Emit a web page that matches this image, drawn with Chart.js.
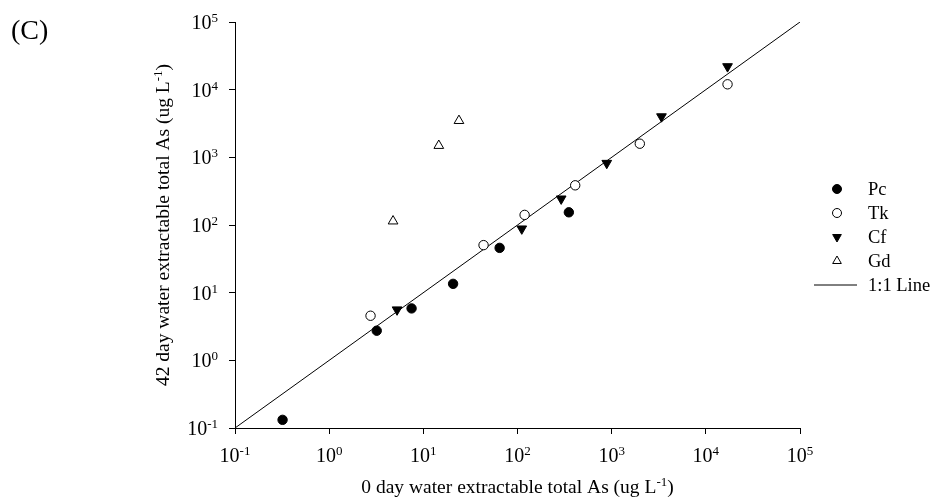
<!DOCTYPE html>
<html>
<head>
<meta charset="utf-8">
<script src="https://cdn.jsdelivr.net/npm/chart.js@4.4.0/dist/chart.umd.min.js"></script>
<style>
  html, body { margin: 0; padding: 0; background: #fff; }
  #wrap { width: 934px; height: 504px; }
</style>
</head>
<body>
<div id="wrap"><canvas id="chart" width="934" height="504"></canvas></div>
<script>
// decade exponents used for the tick labels on both axes
const decades = [-1, 0, 1, 2, 3, 4, 5];

// values (ug L-1): 0 day on x, 42 day on y
const pcX = [0.32, 3.2, 7.5, 20.7, 64.6, 351];
const pcY = [0.132, 2.74, 5.85, 13.5, 45.9, 154];
const tkX = [2.75, 43.6, 119, 410, 1990, 17000];
const tkY = [4.56, 50.4, 141, 386, 1590, 12000];
const cfX = [5.26, 111, 291, 887, 3380, 17000];
const cfY = [5.6, 88, 244, 820, 4000, 22000];
const gdX = [4.77, 14.6, 23.9];
const gdY = [114, 1490, 3480];
const lineX = [0.1, 100000];
const lineY = [0.1, 100000];

const seriesNames = ['Pc', 'Tk', 'Cf', 'Gd', '1:1 Line'];
const panelLabel = '(C)';
const xTitle = '0 day water extractable total As (ug L';
const yTitle = '42 day water extractable total As (ug L';
const unitExp = '-1';

const FONT = '"Liberation Serif", "Times New Roman", serif';

const toPoints = (xs, ys) => xs.map((x, i) => ({ x: x, y: ys[i] }));

// draws "10" with a raised exponent
function drawPow(ctx, exp, x, baseline, align) {
  ctx.font = '20px ' + FONT;
  const w10 = ctx.measureText('10').width;
  ctx.font = '13px ' + FONT;
  const wExp = ctx.measureText(exp).width;
  const total = w10 + wExp;
  let start = x - total / 2;
  if (align === 'right') start = x - total;
  ctx.textAlign = 'left';
  ctx.textBaseline = 'alphabetic';
  ctx.font = '20px ' + FONT;
  ctx.fillText('10', start, baseline);
  ctx.font = '13px ' + FONT;
  ctx.fillText(exp, start + w10, baseline - 7);
}

// title with a superscript unit, centred on cx
function drawUnitTitle(ctx, text, cx, baseline) {
  ctx.font = '19.5px ' + FONT;
  const w1 = ctx.measureText(text).width;
  const w3 = ctx.measureText(')').width;
  ctx.font = '13px ' + FONT;
  const w2 = ctx.measureText(unitExp).width;
  const start = cx - (w1 + w2 + w3) / 2;
  ctx.textAlign = 'left';
  ctx.textBaseline = 'alphabetic';
  ctx.font = '19.5px ' + FONT;
  ctx.fillText(text, start, baseline);
  ctx.fillText(')', start + w1 + w2, baseline);
  ctx.font = '13px ' + FONT;
  ctx.fillText(unitExp, start + w1, baseline - 7);
}

const textPlugin = {
  id: 'textPlugin',
  afterDraw(chart) {
    const ctx = chart.ctx;
    const xs = chart.scales.x;
    const ys = chart.scales.y;
    const area = chart.chartArea;
    ctx.save();
    ctx.fillStyle = '#000';

    decades.forEach(e => {
      const v = Math.pow(10, e);
      drawPow(ctx, String(e), xs.getPixelForValue(v), 462, 'center');
      drawPow(ctx, String(e), 218, ys.getPixelForValue(v) + 7, 'right');
    });

    drawUnitTitle(ctx, xTitle, (area.left + area.right) / 2, 493);

    ctx.save();
    ctx.translate(169, (area.top + area.bottom) / 2);
    ctx.rotate(-Math.PI / 2);
    drawUnitTitle(ctx, yTitle, 0, 0);
    ctx.restore();

    ctx.font = '28px ' + FONT;
    ctx.textAlign = 'left';
    ctx.fillText(panelLabel, 11, 39);

    // legend
    const ds = chart.data.datasets;
    ctx.font = '18.5px ' + FONT;
    ctx.textBaseline = 'middle';
    seriesNames.forEach((name, i) => {
      const y = 189 + i * 24;
      const d = ds[i];
      ctx.fillStyle = d.pointBackgroundColor || '#000';
      ctx.strokeStyle = '#000';
      ctx.lineWidth = 1;
      if (i < 4) {
        Chart.helpers.drawPoint(ctx, {
          pointStyle: d.pointStyle,
          rotation: d.pointRotation || 0,
          radius: d.pointStyle === 'circle' ? 4.5 : 5,
          borderWidth: 1
        }, 837, y);
      } else {
        ctx.beginPath();
        ctx.moveTo(814, y);
        ctx.lineTo(857, y);
        ctx.stroke();
      }
      ctx.fillStyle = '#000';
      ctx.fillText(name, 868, y + 1);
    });
    ctx.restore();
  }
};

const logAxis = (fitFn) => ({
  type: 'logarithmic',
  min: 0.1,
  max: 100000,
  afterBuildTicks: (s) => { s.ticks = decades.map(e => ({ value: Math.pow(10, e) })); },
  afterFit: fitFn,
  ticks: { display: false },
  grid: { drawOnChartArea: false, drawTicks: true, tickLength: 6, color: '#000', lineWidth: 1 },
  border: { display: true, color: '#000', width: 1 }
});

new Chart(document.getElementById('chart').getContext('2d'), {
  type: 'scatter',
  data: {
    datasets: [
      { label: 'Pc', data: toPoints(pcX, pcY), pointStyle: 'circle', pointRadius: 4.7,
        pointBackgroundColor: '#000', pointBorderColor: '#000', pointBorderWidth: 1 },
      { label: 'Tk', data: toPoints(tkX, tkY), pointStyle: 'circle', pointRadius: 4.7,
        pointBackgroundColor: '#fff', pointBorderColor: '#000', pointBorderWidth: 1 },
      { label: 'Cf', data: toPoints(cfX, cfY), pointStyle: 'triangle', pointRotation: 180, pointRadius: 5.6,
        pointBackgroundColor: '#000', pointBorderColor: '#000', pointBorderWidth: 1 },
      { label: 'Gd', data: toPoints(gdX, gdY), pointStyle: 'triangle', pointRadius: 5.6,
        pointBackgroundColor: '#fff', pointBorderColor: '#000', pointBorderWidth: 1 },
      { label: '1:1 Line', type: 'line', data: toPoints(lineX, lineY), showLine: true,
        borderColor: '#000', borderWidth: 1, pointRadius: 0, fill: false }
    ]
  },
  options: {
    responsive: false,
    devicePixelRatio: 1,
    animation: false,
    layout: { padding: { left: 175, right: 134, top: 22, bottom: 0 } },
    scales: {
      x: logAxis((s) => { s.height = 76; }),
      y: logAxis((s) => { s.width = 60; })
    },
    plugins: {
      legend: { display: false },
      tooltip: { enabled: false }
    }
  },
  plugins: [textPlugin]
});
</script>
</body>
</html>
